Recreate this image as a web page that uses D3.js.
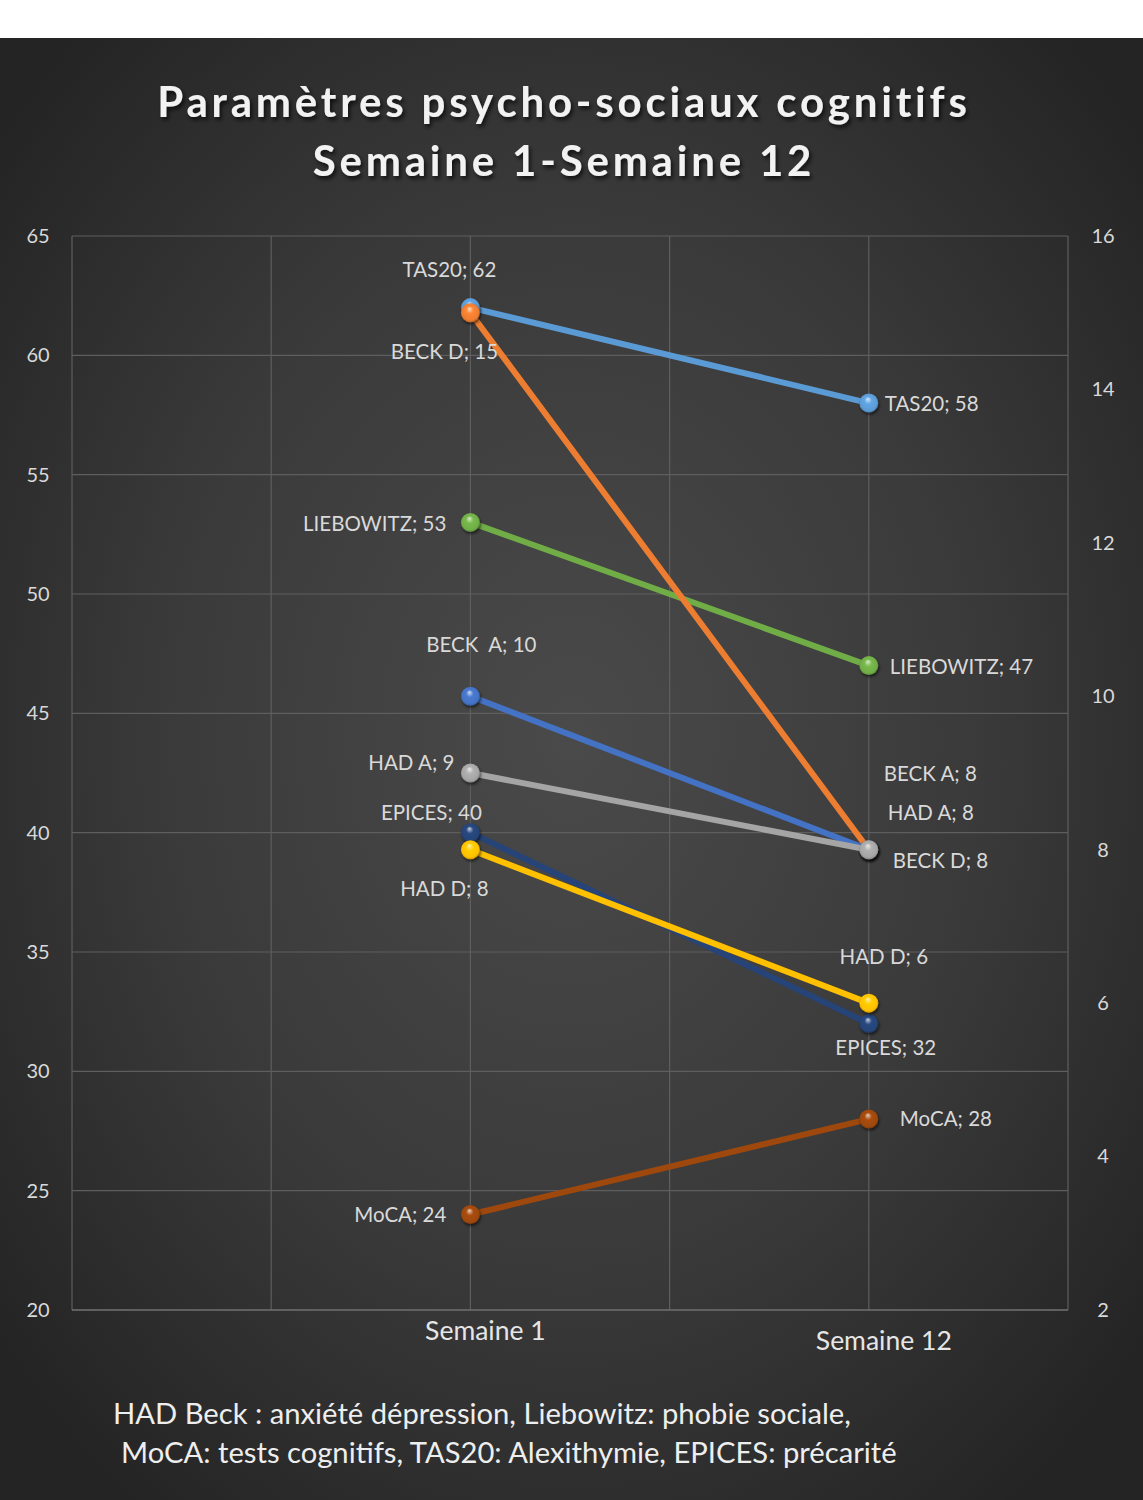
<!DOCTYPE html>
<html>
<head>
<meta charset="utf-8">
<script src="https://cdn.jsdelivr.net/npm/d3@7"></script>
<style>
  html, body { margin: 0; padding: 0; background: #ffffff; }
  svg { display: block; }
  text { font-family: Lato, "Noto Sans", "Open Sans", sans-serif; }
</style>
</head>
<body>
<svg id="chart" width="1143" height="1500"></svg>
<script>
// Series and their values at week 1 and week 12
const seriesNames = ["TAS20", "LIEBOWITZ", "EPICES", "MoCA", "BECK D", "BECK A", "HAD A", "HAD D"];
const week1LabelNames  = ["TAS20", "LIEBOWITZ", "EPICES", "MoCA", "BECK D", "BECK  A", "HAD A", "HAD D"];
const week12LabelNames = ["TAS20", "LIEBOWITZ", "EPICES", "MoCA", "BECK D", "BECK A", "HAD A", "HAD D"];
const week1Values  = [62, 53, 40, 24, 15, 10, 9, 8];
const week12Values = [58, 47, 32, 28, 8, 8, 8, 6];
const seriesAxis   = ["left", "left", "left", "left", "right", "right", "right", "right"];
const seriesColors = ["#5b9bd5", "#70ad47", "#264478", "#9e480e", "#ed7d31", "#4472c4", "#a5a5a5", "#ffc000"];

// Axes
const categories = ["Semaine 1", "Semaine 12"];
const categoryPos = [2, 4];
const leftTicks  = [20, 25, 30, 35, 40, 45, 50, 55, 60, 65];
const rightTicks = [2, 4, 6, 8, 10, 12, 14, 16];

// Label placement per series: [week1 anchor, dx, dy], [week12 anchor, dx, dy]
const labelPlacement = [
  [["middle", -21, -38], ["start", 16, 1]],
  [["end", -24, 1], ["start", 21, 1]],
  [["middle", -39, -20], ["middle", 17, 24]],
  [["end", -24, 0], ["start", 31, 0]],
  [["middle", -26, 39], ["start", 24, 11]],
  [["middle", 11, -51], ["start", 15, -76]],
  [["end", -16, -10], ["start", 19, -37]],
  [["middle", -26, 39], ["middle", 15, -46]]
];

const W = 1143, H = 1500;
const plot = { left: 72, right: 1068, top: 236, bottom: 1310 };

const svg = d3.select("#chart");
const defs = svg.append("defs");

// Background
const bg = defs.append("radialGradient").attr("id", "bgGrad")
  .attr("cx", "50%").attr("cy", "48%").attr("r", "65%");
bg.append("stop").attr("offset", "0%").attr("stop-color", "#4a4a4a");
bg.append("stop").attr("offset", "55%").attr("stop-color", "#3a3a3a");
bg.append("stop").attr("offset", "100%").attr("stop-color", "#242424");

svg.append("rect").attr("x", 0).attr("y", 0).attr("width", W).attr("height", 38).attr("fill", "#ffffff");
svg.append("rect").attr("x", 0).attr("y", 38).attr("width", W).attr("height", H - 38).attr("fill", "url(#bgGrad)");

// Title shadow
const shadow = defs.append("filter").attr("id", "txtShadow").attr("x", "-10%").attr("y", "-30%").attr("width", "120%").attr("height", "160%");
shadow.append("feDropShadow").attr("dx", 2).attr("dy", 3).attr("stdDeviation", 2).attr("flood-color", "#000").attr("flood-opacity", 0.7);

const markShadow = defs.append("filter").attr("id", "markShadow").attr("x", "-50%").attr("y", "-50%").attr("width", "200%").attr("height", "200%");
markShadow.append("feDropShadow").attr("dx", 1).attr("dy", 2).attr("stdDeviation", 1.5).attr("flood-color", "#000").attr("flood-opacity", 0.6);

// Scales
const x = d3.scaleLinear().domain([0, 5]).range([plot.left, plot.right]);
const yLeft = d3.scaleLinear().domain([20, 65]).range([plot.bottom, plot.top]);
const yRight = d3.scaleLinear().domain([2, 16]).range([plot.bottom, plot.top]);

// Gridlines
const grid = svg.append("g");
grid.selectAll("line.h").data(leftTicks).join("line")
  .attr("x1", plot.left).attr("x2", plot.right)
  .attr("y1", d => yLeft(d)).attr("y2", d => yLeft(d))
  .attr("stroke", "#5e5e5e").attr("stroke-width", 1.2);
grid.selectAll("line.v").data([0, 1, 2, 3, 4, 5]).join("line")
  .attr("x1", d => x(d)).attr("x2", d => x(d))
  .attr("y1", plot.top).attr("y2", plot.bottom)
  .attr("stroke", "#5e5e5e").attr("stroke-width", 1.2);
svg.append("line").attr("x1", plot.left).attr("x2", plot.right)
  .attr("y1", plot.bottom).attr("y2", plot.bottom).attr("stroke", "#6a6a6a").attr("stroke-width", 1.5);

// Left axis
const leftAxis = svg.append("g").attr("transform", `translate(${plot.left},0)`)
  .call(d3.axisLeft(yLeft).tickValues(leftTicks).tickSize(0).tickPadding(22));
leftAxis.select(".domain").remove();
leftAxis.selectAll("text").attr("fill", "#d9d9d9").attr("font-size", 20).attr("text-anchor", "middle").attr("x", -34);

// Right axis
const rightAxis = svg.append("g").attr("transform", `translate(${plot.right},0)`)
  .call(d3.axisRight(yRight).tickValues(rightTicks).tickSize(0));
rightAxis.select(".domain").remove();
rightAxis.selectAll("text").attr("fill", "#d9d9d9").attr("font-size", 20).attr("text-anchor", "middle").attr("x", 35);

// Category labels
const catDy = [21, 31];
svg.append("g").selectAll("text").data(categories).join("text")
  .attr("x", (d, i) => x(categoryPos[i]) + 15)
  .attr("y", (d, i) => plot.bottom + catDy[i])
  .attr("dy", "0.35em")
  .attr("text-anchor", "middle").attr("fill", "#e6e6e6").attr("font-size", 26.5)
  .text(d => d);

// Title
const title = svg.append("g").attr("filter", "url(#txtShadow)");
["Paramètres psycho-sociaux cognitifs", "Semaine 1-Semaine 12"].forEach((t, i) => {
  title.append("text").attr("x", 564).attr("y", 102 + i * 59).attr("dy", "0.35em")
    .attr("text-anchor", "middle").attr("fill", "#f2f2f2").attr("font-size", 42)
    .attr("font-weight", "bold").attr("letter-spacing", 3.8).text(t);
});

// Build series data
const series = seriesNames.map((name, i) => ({
  name, labels: [week1LabelNames[i], week12LabelNames[i]], color: seriesColors[i],
  y: seriesAxis[i] === "left" ? yLeft : yRight,
  values: [week1Values[i], week12Values[i]],
  place: labelPlacement[i]
}));

// Marker gradients (glossy spheres)
series.forEach((s, i) => {
  const c = d3.color(s.color);
  const g = defs.append("radialGradient").attr("id", "mk" + i)
    .attr("cx", "50%").attr("cy", "50%").attr("r", "55%").attr("fx", "45%").attr("fy", "28%");
  g.append("stop").attr("offset", "0%").attr("stop-color", d3.interpolateRgb(s.color, "#ffffff")(0.75));
  g.append("stop").attr("offset", "35%").attr("stop-color", c.brighter(0.2).formatHex());
  g.append("stop").attr("offset", "80%").attr("stop-color", s.color);
  g.append("stop").attr("offset", "100%").attr("stop-color", c.darker(1).formatHex());
});

const line = d3.line();
const seriesG = svg.append("g").selectAll("g").data(series).join("g");

seriesG.append("path")
  .attr("d", s => line(s.values.map((v, j) => [x(categoryPos[j]), s.y(v)])))
  .attr("fill", "none").attr("stroke", s => s.color).attr("stroke-width", 6)
  .attr("stroke-linecap", "round");

seriesG.each(function (s, i) {
  d3.select(this).selectAll("circle").data(s.values).join("circle")
    .attr("cx", (v, j) => x(categoryPos[j]))
    .attr("cy", v => s.y(v))
    .attr("r", 9.5)
    .attr("fill", `url(#mk${i})`)
    .attr("filter", "url(#markShadow)");
});

// Data labels
const labels = svg.append("g");
series.forEach(s => {
  s.values.forEach((v, j) => {
    const [anchor, dx, dy] = s.place[j];
    labels.append("text")
      .attr("x", x(categoryPos[j]) + dx)
      .attr("y", s.y(v) + dy)
      .attr("dy", "0.35em")
      .attr("text-anchor", anchor)
      .attr("fill", "#d9d9d9").attr("font-size", 20.5)
      .attr("xml:space", "preserve")
      .text(`${s.labels[j]}; ${v}`);
  });
});

// Footnote
const notes = ["HAD Beck : anxiété dépression, Liebowitz: phobie sociale,", "MoCA: tests cognitifs, TAS20: Alexithymie, EPICES: précarité"];
svg.append("g").selectAll("text").data(notes).join("text")
  .attr("x", (d, i) => 113 + i * 8)
  .attr("y", (d, i) => 1414 + i * 39)
  .attr("dy", "0.35em")
  .attr("fill", "#eeeeee").attr("font-size", 29.2)
  .text(d => d);
</script>
</body>
</html>
